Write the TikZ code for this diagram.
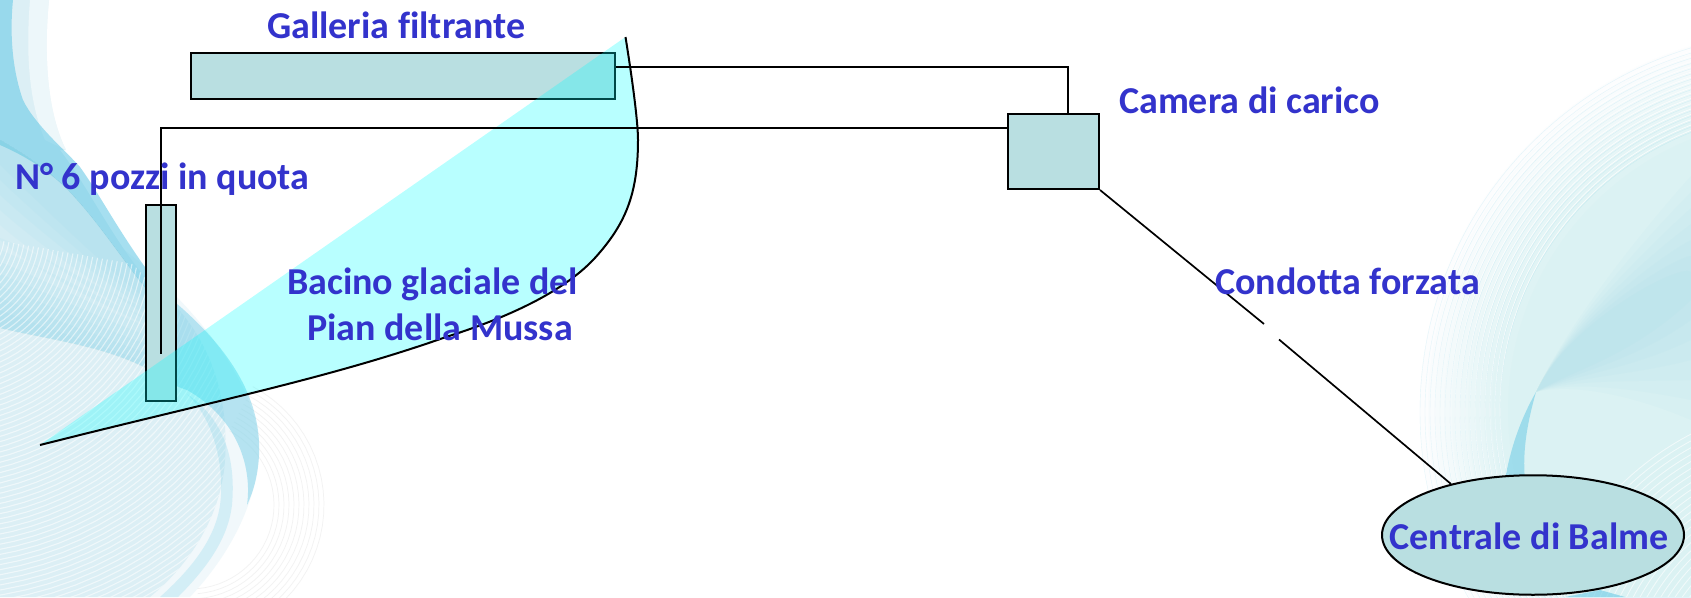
\documentclass[tikz,border=0pt]{standalone}
\usepackage{fontspec}
\setmainfont{Carlito}[Ligatures=NoCommon]
\usetikzlibrary{shapes.geometric}
\definecolor{boxfill}{HTML}{B9DFE1}
\definecolor{labelblue}{HTML}{3333CC}
\definecolor{ribbon}{HTML}{6CCBE6}
\definecolor{wash}{HTML}{DCEFF5}
\definecolor{basin}{HTML}{00FFFF}
\tikzset{
  tank/.style={draw=black,line width=2pt,fill=boxfill,rectangle,inner sep=0pt,anchor=north west},
  pipe/.style={draw=black,line width=2pt,line join=miter},
  thinpipe/.style={draw=black,line width=1.7pt},
  lab/.style={text=labelblue,font=\bfseries\fontsize{38}{42}\selectfont,anchor=base west,inner sep=0pt},
  softline/.style={line width=.7pt}
}
\begin{document}
\begin{tikzpicture}[x=1pt,y=-1pt]
\useasboundingbox (0,0) rectangle (1691,597);
\fill[white] (0,0) rectangle (1691,597);
\begin{scope}
\clip (0,0) rectangle (1691,597);
% ---------- background left
\foreach \r in {84,89,...,138}
  \draw[softline,color=gray!10] plot[domain=-62:85,samples=30] ({190+\r*cos(\x)},{505+\r*sin(\x)});
\fill[wash,opacity=.4] (147,268)
   .. controls (210,325) and (262,395) .. (259,455) .. controls (255,510) and (225,560) .. (190,597) -- (0,597) -- (0,150) -- cycle;
\fill[wash] (0,120) -- (60,150) .. controls (90,190) and (110,235) .. (147,280)
   .. controls (200,320) and (230,380) .. (225,460) .. controls (222,510) and (195,560) .. (150,597) -- (0,597) -- cycle;
% top-left bands
\fill[wash] (0,0) -- (49,0) .. controls (44,50) and (46,110) .. (66,150) -- (0,150) -- cycle;
\fill[white,opacity=.5] (30,0) .. controls (26,50) and (28,100) .. (45,140) -- (66,150) .. controls (46,110) and (44,50) .. (49,0) -- cycle;
\fill[ribbon,opacity=.6] (0,0) -- (13,0) .. controls (9,40) and (14,75) .. (23,100)
   .. controls (35,125) and (65,150) .. (80,167) .. controls (100,195) and (115,225) .. (147,270)
   -- (147,290) .. controls (130,270) and (100,225) .. (77,200) .. controls (60,180) and (35,160) .. (0,145) -- cycle;
% gradient below the band
\foreach \s in {1,...,6}
  \fill[ribbon,opacity=.055] (0,140) .. controls (35,160) and (60,180) .. (77,200) .. controls (100,225) and (130,270) .. (147,290)
     -- (147,{295+5*\s}) .. controls (100,{255+8*\s}) and (40,{190+14*\s}) .. (0,{150+15*\s}) -- cycle;
% gradient into the lower ribbon
\foreach \s in {0,...,6}
  \fill[ribbon,opacity=.055] (0,{310-12*\s}) .. controls (50,{330-12*\s}) and (100,{345-9*\s}) .. (146,{362-9*\s})
     -- (146,368) .. controls (100,345) and (50,340) .. (0,328) -- cycle;
% mesh lines
\begin{scope}
\clip (0,145) .. controls (40,165) and (100,225) .. (147,280)
   .. controls (200,320) and (230,380) .. (225,460) .. controls (222,510) and (195,560) .. (150,597) -- (0,597) -- cycle;
\foreach \r in {40,45,...,420}
  \draw[white,line width=1.1pt,opacity=.55] plot[domain=10:95,samples=24] ({-60+\r*cos(\x)},{230+\r*sin(\x)});
\end{scope}
% crescent
\fill[ribbon,opacity=.45] (176,303) .. controls (225,345) and (262,395) .. (259,455) .. controls (258,475) and (254,490) .. (247,505)
   .. controls (252,470) and (240,420) .. (187,390) .. controls (170,385) and (160,375) .. (146,368) -- (146,290) -- cycle;
\fill[ribbon,opacity=.22] (187,394) .. controls (215,420) and (225,470) .. (220,505) .. controls (215,540) and (190,570) .. (160,597)
   -- (178,597) .. controls (205,570) and (228,540) .. (232,505) .. controls (236,460) and (225,420) .. (187,394) -- cycle;
% ---------- background right
\foreach \r in {380,372,...,292}
  \fill[ribbon,opacity=.018] (1800,410) circle[radius=\r];
\foreach \s in {1,...,7}
  \fill[ribbon,opacity=.035] (1691,{160+16*\s}) .. controls ({1640+6*\s},{220+6*\s}) and (1570,320) .. (1536,392)
     .. controls (1570,{385-2*\s}) and (1630,{400-6*\s}) .. (1691,{440-20*\s}) -- cycle;
\foreach \r in {300,305,...,380}
  \draw[softline,color=white,opacity=.8] (1800,410) circle[radius=\r];
\foreach \r in {300,305,...,380}
  \draw[line width=.4pt,color=ribbon,opacity=.18] (1800,412) circle[radius=\r];
\begin{scope}
\clip (1534,394) -- (1691,340) -- (1691,597) -- (1500,597) -- cycle;
\foreach \r in {90,96,...,300}
  \draw[white,line width=.9pt,opacity=.6] (1830,700) circle[radius=\r];
\end{scope}
\fill[ribbon,opacity=.55] (1536,392) .. controls (1520,420) and (1510,450) .. (1505,480) -- (1525,480) .. controls (1522,450) and (1528,420) .. (1536,392) -- cycle;
\fill[ribbon,opacity=.6] (1565,597) -- (1600,590) -- (1625,597) -- cycle;
\end{scope}
% ---------- tanks
\node[tank,minimum width=424pt,minimum height=46pt] (galleria) at (190,51.5) {};
\node[tank,minimum width=30.5pt,minimum height=196pt] (pozzi) at (144.5,203.5) {};
\node[tank,minimum width=91pt,minimum height=75.5pt] (camera) at (1007,112.5) {};
\node[draw=black,line width=2pt,fill=boxfill,ellipse,inner sep=0pt,minimum width=302pt,minimum height=119.5pt] (centrale) at (1533,535) {};
% ---------- basin
\coordinate (basintop) at (625.5,37);
\coordinate (basinend) at (40,445);
\fill[basin,opacity=.28] (basintop) .. controls (634,90) and (638,125) .. (638,140)
  .. controls (638,195) and (625,225) .. (594,259) .. controls (560,295) and (500,320) .. (446,337)
  .. controls (330,378) and (210,402) .. (basinend) -- cycle;
\draw[pipe] (basintop) .. controls (634,90) and (638,125) .. (638,140)
  .. controls (638,195) and (625,225) .. (594,259) .. controls (560,295) and (500,320) .. (446,337)
  .. controls (330,378) and (210,402) .. (basinend);
% ---------- connectors
\coordinate (gout) at (galleria.east |- 0,67);
\coordinate (camin) at (1068,113);
\coordinate (camleft) at (camera.west |- 0,128);
\coordinate (shaftend) at (160.7,354);
\coordinate (gapA) at (1264,324);
\coordinate (gapB) at (1279,339.5);
\coordinate (pipeend) at (1451,484);
\draw[pipe] (gout) -| (camin);
\draw[pipe] (camleft) -| (shaftend);
\draw[thinpipe] (camera.south east) -- (gapA);
\draw[thinpipe] (gapB) -- (pipeend);
% ---------- labels
\node[lab] (l1) at (267,38) {Galleria filtrante};
\node[lab] (l2) at (15,189) {N° 6 pozzi in quota};
\node[lab] (l3) at (287,294) {Bacino glaciale del};
\node[lab] (l4) at (307,340) {Pian della Mussa};
\node[lab] (l5) at (1119,113) {Camera di carico};
\node[lab] (l6) at (1215,294) {Condotta forzata};
\node[lab] (l7) at (1389.5,549) {Centrale di Balme};
\end{tikzpicture}
\end{document}
